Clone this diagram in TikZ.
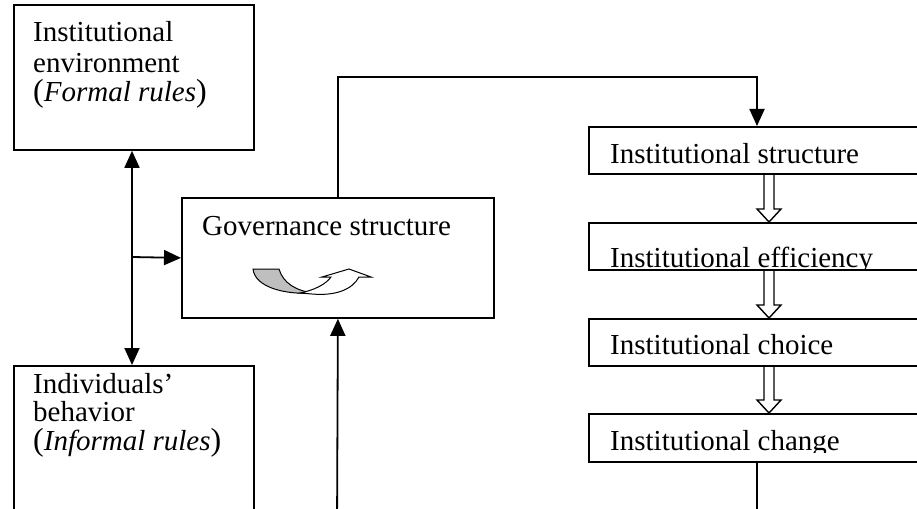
\documentclass[tikz,border=0pt]{standalone}
\usepackage{fontspec}
\setmainfont{Liberation Serif}
\usetikzlibrary{arrows.meta,calc}

% hollow block arrow between two stacked boxes, centred on coordinate (hx)
\newcommand{\hollowdown}[2]{%
  \draw[hollow] ($(#1.south -| hx)+(-5,0)$) -- ($(#2.north -| hx)+(-5,-13)$)
    -- ($(#2.north -| hx)+(-12,-13)$) -- (#2.north -| hx)
    -- ($(#2.north -| hx)+(12,-13)$) -- ($(#2.north -| hx)+(5,-13)$)
    -- ($(#1.south -| hx)+(5,0)$);}
% slightly taller upright parentheses
\newcommand{\lpar}{{\fontsize{32}{32}\selectfont(}}
\newcommand{\rpar}{{\fontsize{32}{32}\selectfont)}}

\begin{document}
\begin{tikzpicture}[x=1pt,y=-1pt,
  frame/.style={draw, line width=1.8pt, inner sep=0pt, anchor=north west},
  lbl/.style={anchor=base west, inner sep=0pt, font=\fontsize{29}{29}\selectfont},
  conn/.style={line width=1.8pt, -{Triangle[length=17pt,width=15pt]}},
  twoway/.style={line width=1.8pt, {Triangle[length=17pt,width=15pt]}-{Triangle[length=17pt,width=15pt]}},
  plain/.style={line width=1.8pt},
  hollow/.style={line width=1.4pt, line join=miter},
]
\useasboundingbox (0,0) rectangle (917,508);
\clip (0,0) rectangle (917,508);

% left column
\node[frame, minimum width=240pt, minimum height=145pt] (envbox) at (13,4) {};
\node[lbl] (envl1) at (33,42) {Institutional};
\node[lbl] (envl2) at (33,73) {environment};
\node[lbl] (envl3) at (33,102) {\lpar\textit{Formal rules}\rpar};

\node[frame, minimum width=240pt, minimum height=200pt] (indbox) at (13,365) {};
\node[lbl] (indl1) at (33,393) {Individuals’};
\node[lbl] (indl2) at (33,421) {behavior};
\node[lbl] (indl3) at (33,450) {\lpar\textit{Informal rules}\rpar};

% governance structure with its curved ribbon arrow
\node[frame, minimum width=312pt, minimum height=120pt] (gov) at (181,197) {};
\node[lbl] (govl) at (202,235) {Governance structure};
\draw[line width=1pt, fill=black!25] (253,269) -- (279,269)
  .. controls (283,283) and (296,291) .. (314,293)
  .. controls (284,295) and (255,287) .. (253,269) -- cycle;
\draw[line width=1pt, fill=white] (300,293)
  .. controls (315,290) and (326,284) .. (331,277) -- (322,277) -- (349,269)
  -- (371,277) -- (359,277)
  .. controls (352,290) and (335,296) .. (312,294) -- cycle;

% right column
\node[frame, minimum width=422pt, minimum height=47pt] (istr) at (588,126) {};
\node[frame, minimum width=422pt, minimum height=47pt] (ieff) at (588,222) {};
\node[frame, minimum width=422pt, minimum height=47pt] (icho) at (588,318) {};
\node[frame, minimum width=422pt, minimum height=48pt] (ichg) at (588,413) {};
\node[lbl] (istrl) at (610,163) {Institutional structure};
\begin{scope}
  \clip (588,222) rectangle (1010,268);
  \node[lbl] (ieffl) at (610,267) {Institutional efficiency};
\end{scope}
\node[lbl] (ichol) at (610,354) {Institutional choice};
\begin{scope}
  \clip (588,413) rectangle (1010,452);
  \node[lbl] (ichgl) at (610,450) {Institutional change};
\end{scope}

% connectors
\coordinate (spine) at (132,257);
\coordinate (topturn) at (757,77);
\coordinate (govin) at (337,530);
\coordinate (chout) at (757,530);
\coordinate (hx) at (769,0);

\draw[twoway] (envbox.south -| spine) -- (indbox.north -| spine);
\draw[conn] (spine) -- (gov.west);
\draw[conn] (gov.north) |- (topturn) -- (istr.north -| topturn);
\draw[conn] (govin) -- (gov.south);
\draw[plain] (ichg.south -| chout) -- (chout);

\hollowdown{istr}{ieff}
\hollowdown{ieff}{icho}
\hollowdown{icho}{ichg}
\end{tikzpicture}
\end{document}
